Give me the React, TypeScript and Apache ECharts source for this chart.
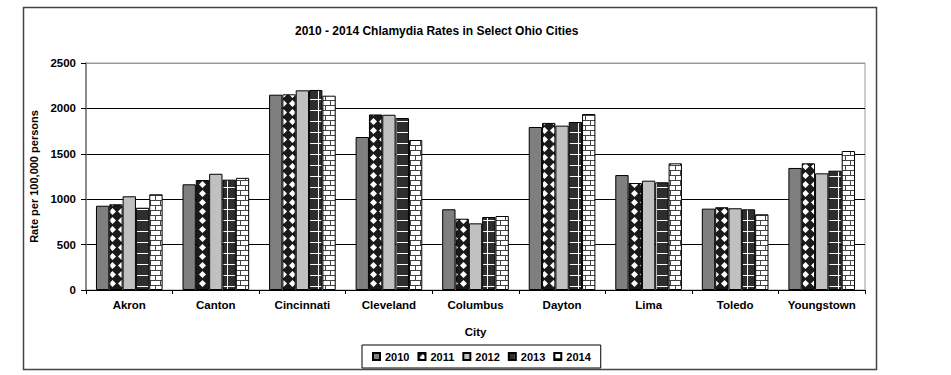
import React, { useEffect, useRef } from "react";
import * as echarts from "echarts";

const cities = ["Akron", "Canton", "Cincinnati", "Cleveland", "Columbus", "Dayton", "Lima", "Toledo", "Youngstown"];
const years = ["2010", "2011", "2012", "2013", "2014"];
const v2010 = [928, 1164, 2151, 1685, 889, 1795, 1266, 896, 1344];
const v2011 = [944, 1211, 2155, 1933, 785, 1840, 1178, 911, 1395];
const v2012 = [1032, 1280, 2199, 1930, 734, 1810, 1204, 900, 1285];
const v2013 = [906, 1215, 2203, 1894, 804, 1850, 1186, 889, 1314];
const v2014 = [1054, 1235, 2140, 1652, 815, 1938, 1395, 834, 1531];
const yTicks = [0, 500, 1000, 1500, 2000, 2500];

const FONT = "'Liberation Sans', Arial, sans-serif";

function makeCanvas(w: number, h: number, draw: (c: CanvasRenderingContext2D) => void) {
  const cv = document.createElement("canvas");
  cv.width = w;
  cv.height = h;
  const ctx = cv.getContext("2d")!;
  draw(ctx);
  return cv;
}

export default function App() {
  const ref = useRef<HTMLDivElement>(null);
  useEffect(() => {
    if (!ref.current) return;
    const chart = echarts.init(ref.current, undefined, { renderer: "svg" });

    const dots = makeCanvas(9, 9, (c) => {
      c.fillStyle = "#1a1a1a";
      c.fillRect(0, 0, 9, 9);
      c.fillStyle = "#ffffff";
      c.beginPath();
      c.moveTo(4.5, 1);
      c.lineTo(8, 4.5);
      c.lineTo(4.5, 8);
      c.lineTo(1, 4.5);
      c.closePath();
      c.fill();
    });
    const grid = makeCanvas(13, 11, (c) => {
      c.fillStyle = "#2e2e2e";
      c.fillRect(0, 0, 13, 11);
      c.fillStyle = "#ffffff";
      c.fillRect(0, 0, 13, 1);
      c.fillRect(6, 0, 1, 11);
    });
    const brick = makeCanvas(10, 10, (c) => {
      c.fillStyle = "#ffffff";
      c.fillRect(0, 0, 10, 10);
      c.fillStyle = "#444444";
      c.fillRect(0, 0, 10, 1);
      c.fillRect(0, 5, 10, 1);
      c.fillRect(0, 0, 1, 5);
      c.fillRect(5, 5, 1, 5);
    });

    const fills: any[] = [
      "#7f7f7f",
      { image: dots, repeat: "repeat" },
      "#c0c0c0",
      { image: grid, repeat: "repeat" },
      { image: brick, repeat: "repeat" },
    ];
    const values = [v2010, v2011, v2012, v2013, v2014];

    chart.setOption({
      animation: false,
      title: {
        text: "2010 - 2014 Chlamydia Rates in Select Ohio Cities",
        left: 290,
        top: 20,
        textStyle: { fontFamily: FONT, fontSize: 12, fontWeight: "bold", color: "#000" },
      },
      legend: {
        data: years,
        left: 362,
        top: 345,
        padding: [6, 10],
        itemWidth: 7,
        itemHeight: 7,
        itemGap: 8,
        borderColor: "#000",
        borderWidth: 1,
        icon: "rect",
        textStyle: { fontFamily: FONT, fontSize: 11, fontWeight: "bold", color: "#000" },
      },
      graphic: [
        {
          type: "rect",
          shape: { x: 23.5, y: 7.5, width: 853, height: 362 },
          style: { fill: "none", stroke: "#444", lineWidth: 1.5 },
          silent: true,
        },
      ],
      grid: {
        left: 86,
        right: 86,
        top: 63,
        bottom: 85,
        show: true,
        borderColor: "#999",
        borderWidth: 1,
        backgroundColor: "transparent",
      },
      xAxis: {
        type: "category",
        data: cities,
        name: "City",
        nameLocation: "middle",
        nameGap: 36,
        nameTextStyle: { fontFamily: FONT, fontSize: 11.5, fontWeight: "bold", color: "#000" },
        axisLine: { lineStyle: { color: "#000", width: 1 } },
        axisTick: { show: true, length: 4, lineStyle: { color: "#000" } },
        axisLabel: { margin: 9, fontFamily: FONT, fontSize: 11.5, fontWeight: "bold", color: "#000", interval: 0 },
      },
      yAxis: {
        type: "value",
        min: yTicks[0],
        max: yTicks[yTicks.length - 1],
        interval: 500,
        name: "Rate per 100,000 persons",
        nameLocation: "middle",
        nameRotate: 90,
        nameGap: 42,
        nameTextStyle: { fontFamily: FONT, fontSize: 11, fontWeight: "bold", color: "#000" },
        axisLine: { show: true, lineStyle: { color: "#777", width: 1.5 } },
        axisTick: { show: true, length: 5, lineStyle: { color: "#000" } },
        axisLabel: {
          margin: 10,
          fontFamily: FONT,
          fontSize: 11.5,
          fontWeight: "bold",
          color: "#000",
          formatter: (v: number) => String(v),
        },
        splitLine: { show: true, lineStyle: { color: ["#000", "#000", "#000", "#000", "#000", "#999"], width: 1 } },
      },
      series: years.map((y, i) => ({
        name: y,
        type: "bar",
        data: values[i],
        barGap: "0%",
        barCategoryGap: "23%",
        itemStyle: { color: fills[i], borderColor: "#000", borderWidth: 1 },
      })),
    });
    return () => chart.dispose();
  }, []);
  return <div ref={ref} style={{ position: "fixed", left: 0, top: 0, width: 951, height: 375, background: "#fff" }} />;
}
